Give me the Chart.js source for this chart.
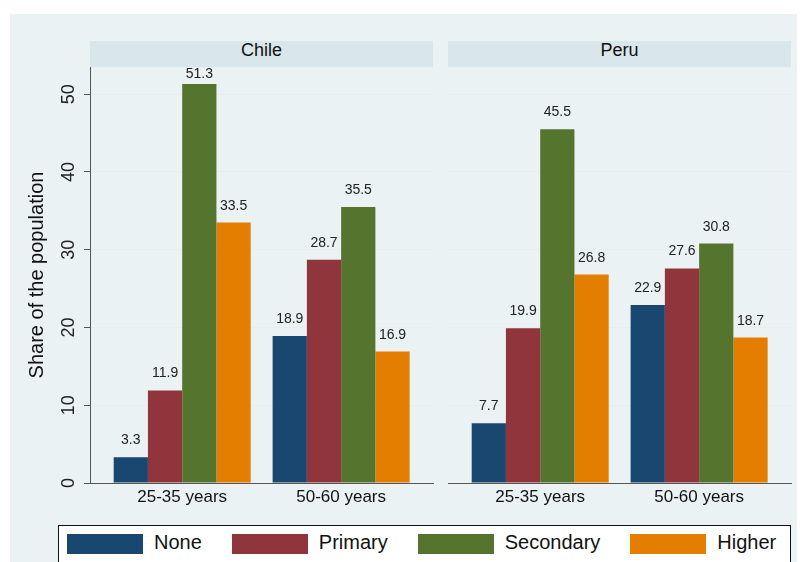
<!DOCTYPE html>
<html>
<head>
<meta charset="utf-8">
<script src="https://cdn.jsdelivr.net/npm/chart.js@4.4.0/dist/chart.umd.min.js"></script>
<style>
  body { margin: 0; background: #fff; font-family: "Liberation Sans", Arial, sans-serif; }
  #page { position: relative; width: 805px; height: 562px; overflow: hidden; }
  #bg { position: absolute; left: 10px; top: 14px; width: 787px; height: 548px; background: #eaf2f3; }
  .strip { position: absolute; top: 41px; height: 26px; background: #d9e6eb; color: #111;
           font-size: 18px; line-height: 18px; text-align: center; box-sizing: border-box; }
  canvas { position: absolute; top: 67px; }
  #legend { position: absolute; left: 58px; top: 525px; width: 733px; height: 50px; background: #fff;
            border: 1px solid #111; display: flex; align-items: flex-start; padding: 8px 0 0 8px; box-sizing: border-box; }
  .item { display: flex; align-items: center; margin-right: 30px; }
  .sw { width: 76px; height: 20px; margin-right: 11px; }
  .lab { font-size: 20px; color: #111; position: relative; top: -2px; line-height: 20px; }
</style>
</head>
<body>
<div id="page">
  <div id="bg"></div>
  <div class="strip" style="left:90px;width:343px;">Chile</div>
  <div class="strip" style="left:448px;width:343px;">Peru</div>
  <canvas id="chile" width="430" height="448" style="left:10px;"></canvas>
  <canvas id="peru" width="360" height="448" style="left:440px;"></canvas>
  <div id="legend"></div>
</div>
<script>
// categories and values
var ageGroups = ['25-35 years', '50-60 years'];
var levels = ['None', 'Primary', 'Secondary', 'Higher'];
var yTicks = [0, 10, 20, 30, 40, 50];

var chileNone = [3.3, 18.9];
var chilePrimary = [11.9, 28.7];
var chileSecondary = [51.3, 35.5];
var chileHigher = [33.5, 16.9];

var peruNone = [7.7, 22.9];
var peruPrimary = [19.9, 27.6];
var peruSecondary = [45.5, 30.8];
var peruHigher = [26.8, 18.7];

var colors = ['#1a476f', '#90353b', '#55752f', '#e37e00'];
var axisColor = '#555';
var gridColor = '#e6eef0';
var font = '"Liberation Sans", Arial, sans-serif';

// value labels above the bars, and the rotated y tick labels
var labelsPlugin = {
  id: 'labels',
  afterDatasetsDraw: function(chart) {
    var ctx = chart.ctx;
    var top = chart.chartArea.top;
    ctx.save();
    ctx.fillStyle = '#222';
    ctx.font = '14px ' + font;
    ctx.textAlign = 'center';
    ctx.textBaseline = 'alphabetic';
    chart.data.datasets.forEach(function(ds, i) {
      chart.getDatasetMeta(i).data.forEach(function(bar, j) {
        // keep the label inside the plot when the bar is tall
        var y = Math.max(bar.y - 13, top + 11);
        ctx.fillText(ds.data[j].y.toFixed(1), bar.x, y);
      });
    });
    if (chart.options.showYLabels) {
      var ys = chart.scales.y;
      ctx.font = '18px ' + font;
      yTicks.forEach(function(v) {
        ctx.save();
        ctx.translate(63.5, ys.getPixelForValue(v));
        ctx.rotate(-Math.PI / 2);
        ctx.fillText(String(v), 0, 0);
        ctx.restore();
      });
    }
    ctx.restore();
  }
};

function makeChart(id, series, withAxis, yWidth, padRight) {
  var datasets = series.map(function(vals, i) {
    return {
      label: levels[i],
      data: vals.map(function(v, j) { return { x: j, y: v }; }),
      backgroundColor: colors[i],
      borderWidth: 0,
      barPercentage: 1,
      categoryPercentage: 0.862
    };
  });
  return new Chart(document.getElementById(id).getContext('2d'), {
    type: 'bar',
    data: { datasets: datasets },
    plugins: [labelsPlugin],
    options: {
      responsive: false,
      animation: false,
      devicePixelRatio: 1,
      showYLabels: withAxis,
      layout: { padding: { left: 0, top: 0, right: padRight, bottom: 0 } },
      plugins: { legend: { display: false }, tooltip: { enabled: false } },
      scales: {
        x: {
          type: 'linear',
          min: -0.58,
          max: 1.578,
          offset: false,
          afterBuildTicks: function(s) { s.ticks = ageGroups.map(function(c, i) { return { value: i }; }); },
          afterFit: function(s) { s.height = 32; },
          grid: { display: false, drawTicks: false },
          border: { display: true, color: axisColor, width: 1 },
          ticks: {
            padding: 4,
            color: '#111',
            font: { family: font, size: 17 },
            maxRotation: 0,
            callback: function(v) { return ageGroups[v]; }
          }
        },
        y: {
          min: 0,
          max: 53.5,
          afterBuildTicks: function(s) { s.ticks = yTicks.map(function(v) { return { value: v }; }); },
          afterFit: function(s) { s.width = yWidth; },
          grid: {
            color: function(c) { return c.tick && c.tick.value === 0 ? 'rgba(0,0,0,0)' : gridColor; },
            drawTicks: withAxis,
            tickLength: 6,
            tickColor: axisColor
          },
          border: { display: withAxis, color: axisColor, width: 1 },
          ticks: { display: false },
          title: {
            display: withAxis,
            text: 'Share of the population',
            color: '#111',
            font: { family: font, size: 20 },
            padding: { top: 15, bottom: 0 }
          }
        }
      }
    }
  });
}

window.onload = function() {
  makeChart('chile', [chileNone, chilePrimary, chileSecondary, chileHigher], true, 80, 7);
  makeChart('peru', [peruNone, peruPrimary, peruSecondary, peruHigher], false, 8, 9);

  var legend = document.getElementById('legend');
  levels.forEach(function(name, i) {
    var item = document.createElement('div');
    item.className = 'item';
    item.innerHTML = '<div class="sw" style="background:' + colors[i] + '"></div><span class="lab">' + name + '</span>';
    legend.appendChild(item);
  });
};
</script>
</body>
</html>
